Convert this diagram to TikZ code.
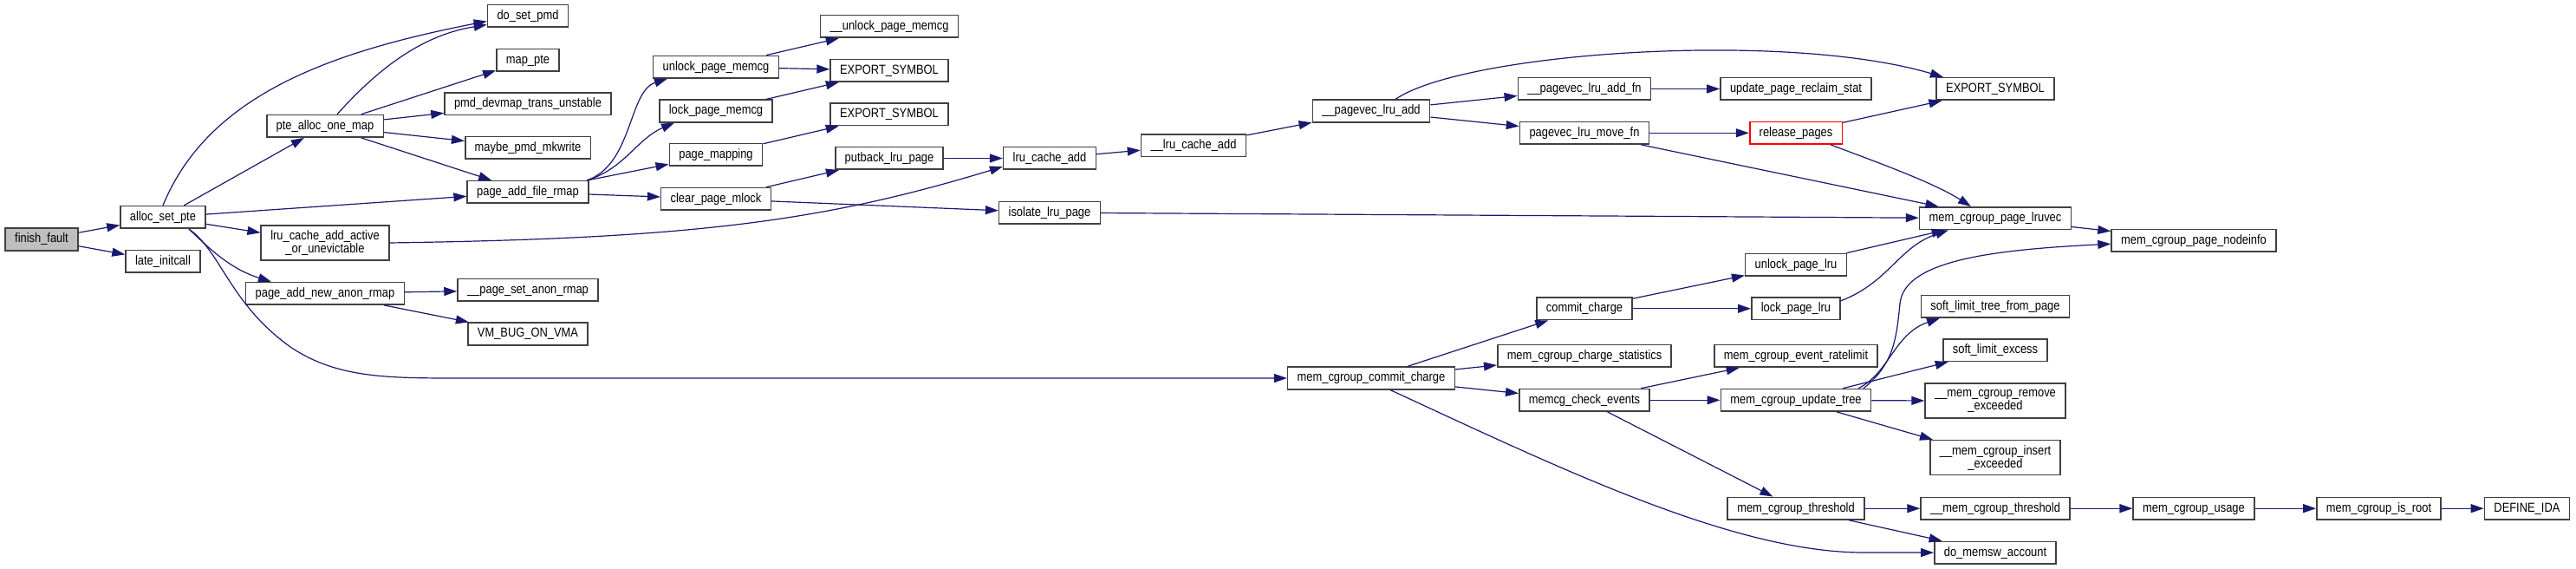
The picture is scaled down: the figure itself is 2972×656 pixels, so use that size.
\documentclass[tikz,border=0pt]{standalone}
\usepackage{fontspec}
\setmainfont{Liberation Sans}[FakeStretch=0.86]
\usetikzlibrary{arrows.meta}
\definecolor{edgeblue}{HTML}{191970}
\definecolor{boxgray}{HTML}{404040}
\definecolor{rootgray}{HTML}{BFBFBF}
\newcommand{\fnfont}{\fontsize{7.5pt}{7.5pt}\selectfont}
\tikzset{
  fn/.style={draw=boxgray,fill=white,line width=0.8pt,font=\fnfont,minimum height=12.8pt,
    inner xsep=5.5pt,inner ysep=0pt,text height=5.6pt,text depth=1.6pt},
  fntwo/.style={fn,text height={},text depth={},align=center,minimum height=20pt},
  call/.style={draw=edgeblue,line width=0.6pt,-{Triangle[length=7.5pt,width=5pt]}}
}
\begin{document}
\begin{tikzpicture}[x=0.5pt,y=-0.5pt]
\useasboundingbox (0,0) rectangle (2972,656);
\node[fn,fill=rootgray] (ff) at (48,276) {finish\_fault};
\node[fn] (asp) at (188,250.5) {alloc\_set\_pte};
\node[fn] (li) at (188,301.3) {late\_initcall};
\node[fn] (paom) at (375,145.3) {pte\_alloc\_one\_map};
\node[fntwo] (lcaa) at (375,280) {lru\_cache\_add\_active\\\_or\_unevictable};
\node[fn] (pana) at (375,338.3) {page\_add\_new\_anon\_rmap};
\node[fn] (dsp) at (609,18.5) {do\_set\_pmd};
\node[fn] (mpte) at (609,69.3) {map\_pte};
\node[fn] (pdtu) at (609,119.8) {pmd\_devmap\_trans\_unstable};
\node[fn] (mpm) at (609,170.3) {maybe\_pmd\_mkwrite};
\node[fn] (pafr) at (609,221.5) {page\_add\_file\_rmap};
\node[fn] (psar) at (609,334.5) {\_\_page\_set\_anon\_rmap};
\node[fn] (vbov) at (609,385) {VM\_BUG\_ON\_VMA};
\node[fn] (upm) at (826,77.2) {unlock\_page\_memcg};
\node[fn] (lpm) at (826,128) {lock\_page\_memcg};
\node[fn] (pmap) at (826,178.5) {page\_mapping};
\node[fn] (cpm) at (826,229.3) {clear\_page\_mlock};
\node[fn] (uupm) at (1026,30.5) {\_\_unlock\_page\_memcg};
\node[fn] (es1) at (1026,81.2) {EXPORT\_SYMBOL};
\node[fn] (es2) at (1026,131.8) {EXPORT\_SYMBOL};
\node[fn] (plp) at (1026,182.5) {putback\_lru\_page};
\node[fn] (lca) at (1211,182.5) {lru\_cache\_add};
\node[fn] (ilp) at (1211,245.2) {isolate\_lru\_page};
\node[fn] (ulca) at (1377,167.8) {\_\_lru\_cache\_add};
\node[fn] (pvla) at (1582,128) {\_\_pagevec\_lru\_add};
\node[fn] (mcc) at (1582,436) {mem\_cgroup\_commit\_charge};
\node[fn] (pvlaf) at (1828,102.5) {\_\_pagevec\_lru\_add\_fn};
\node[fn] (pvlm) at (1828,153.3) {pagevec\_lru\_move\_fn};
\node[fn] (cc) at (1828,355.8) {commit\_charge};
\node[fn] (mccs) at (1828,410.5) {mem\_cgroup\_charge\_statistics};
\node[fn] (mce) at (1828,461.3) {memcg\_check\_events};
\node[fn] (ups) at (2072,102.5) {update\_page\_reclaim\_stat};
\node[fn,draw=red] (rp) at (2072,153.3) {release\_pages};
\node[fn] (upl) at (2072,305.3) {unlock\_page\_lru};
\node[fn] (lpl) at (2072,355.8) {lock\_page\_lru};
\node[fn] (mcer) at (2072,410.5) {mem\_cgroup\_event\_ratelimit};
\node[fn] (mcut) at (2072,461.3) {mem\_cgroup\_update\_tree};
\node[fn] (mct) at (2072,586.2) {mem\_cgroup\_threshold};
\node[fn] (es3) at (2302,102.5) {EXPORT\_SYMBOL};
\node[fn] (mcpl) at (2302,251.7) {mem\_cgroup\_page\_lruvec};
\node[fn] (sltp) at (2302,353.2) {soft\_limit\_tree\_from\_page};
\node[fn] (sle) at (2302,403.7) {soft\_limit\_excess};
\node[fntwo] (mcre) at (2302,462.3) {\_\_mem\_cgroup\_remove\\\_exceeded};
\node[fntwo] (mcie) at (2302,527.7) {\_\_mem\_cgroup\_insert\\\_exceeded};
\node[fn] (mcth) at (2302,586.2) {\_\_mem\_cgroup\_threshold};
\node[fn] (dma) at (2302,637.2) {do\_memsw\_account};
\node[fn] (mcpn) at (2531,277.2) {mem\_cgroup\_page\_nodeinfo};
\node[fn] (mcu) at (2531,586.2) {mem\_cgroup\_usage};
\node[fn] (mcir) at (2744.5,586.2) {mem\_cgroup\_is\_root};
\node[fn] (ida) at (2915.4,586.2) {DEFINE\_IDA};
\foreach \a/\b in {ff/asp,ff/li,asp/paom,asp/pafr,asp/lcaa,paom/mpte,paom/pdtu,paom/mpm,
  paom/pafr,pafr/pmap,pafr/cpm,pana/psar,pana/vbov,upm/uupm,upm/es1,lpm/es1,pmap/es2,
  cpm/plp,cpm/ilp,plp/lca,lca/ulca,ulca/pvla,pvla/pvlaf,pvla/pvlm,pvlaf/ups,pvlm/rp,
  pvlm/mcpl,rp/es3,ilp/mcpl,upl/mcpl,mcpl/mcpn,mcut/sle,mcut/mcre,mcut/mcie,mcc/cc,
  mcc/mccs,mcc/mce,cc/upl,cc/lpl,mce/mcer,mce/mcut,mce/mct,mct/mcth,mct/dma,mcth/mcu,
  mcu/mcir,mcir/ida}{
  \draw[call] (\a) -- (\b);
}
\draw[call] (asp.north) .. controls (240,110) and (380,60) .. ([yshift=-3pt]dsp.west);
\draw[call] ([xshift=7pt]paom.north) .. controls (440,75) and (490,40) .. ([yshift=-5pt]dsp.west);
\draw[call] ([xshift=15pt]asp.south) .. controls (240,285) and (265,310) .. ([xshift=-31pt]pana.north);
\draw[call] ([xshift=15pt]asp.south) .. controls (255,290) and (265,350) .. (335,400)
  .. controls (390,437) and (450,436) .. (540,436) -- (mcc);
\draw[call] ([xshift=34pt]pafr.north) .. controls (730,190) and (725,105) .. ([xshift=-28pt]upm.south);
\draw[call] ([xshift=34pt]pafr.north) .. controls (720,195) and (735,160) .. ([xshift=-24pt]lpm.south);
\draw[call] (lcaa.east) .. controls (800,275) and (950,255) .. ([yshift=2pt]lca.south west);
\draw[call] ([xshift=14pt]pvla.north) .. controls (1690,60) and (2060,35) .. ([xshift=-30pt]es3.north);
\draw[call] ([xshift=20pt]rp.south) .. controls (2160,185) and (2230,210) .. ([xshift=-14pt]mcpl.north);
\draw[call] ([yshift=4.5pt]lpl.east) .. controls (2180,325) and (2190,285) .. ([xshift=-27pt]mcpl.south);
\draw[call] ([xshift=39pt]mcut.north) .. controls (2185,420) and (2188,390) .. (2192,350)
  .. controls (2197,300) and (2300,288) .. ([yshift=-2pt]mcpn.west);
\draw[call] ([xshift=36pt]mcut.north) .. controls (2180,430) and (2185,385) .. ([xshift=-32pt]sltp.south);
\draw[call] ([xshift=11pt]mcc.south) .. controls (1800,540) and (2000,637) .. (2150,637) -- (dma);
\end{tikzpicture}
\end{document}
